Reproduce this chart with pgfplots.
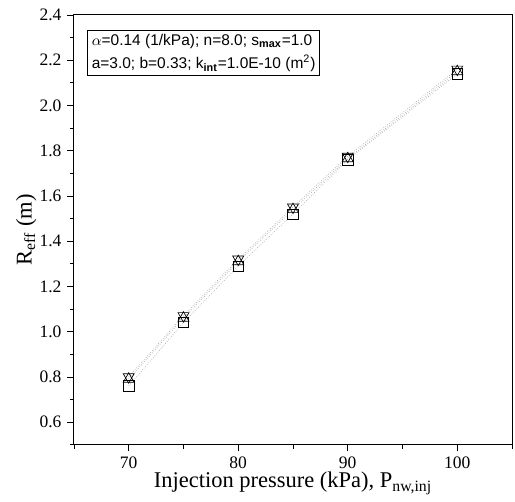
\documentclass[border=0pt]{standalone}
\usepackage{pgfplots}
\pgfplotsset{compat=1.18}
\usepackage{fontspec}
\setmainfont{Liberation Serif}
\newfontfamily\arial{Liberation Sans}
\begin{document}
\begin{tikzpicture}
  \begin{axis}[
    scale only axis,
    width=263pt, height=258pt,
    xmin=65, xmax=105, ymin=0.5, ymax=2.4,
    xtick={70,80,90,100}, minor xtick={65,75,85,95,105},
    ytick={0.6,0.8,...,2.41}, minor ytick={0.5,0.7,...,2.31},
    tick align=outside,
    xtick pos=bottom, ytick pos=left,
    major tick length=4pt, minor tick length=2.5pt,
    tick style={black, thin},
    axis line style={black, semithick},
    /pgf/number format/assume math mode=true,
    /pgf/number format/.cd, fixed, fixed zerofill, precision=1, /pgfplots/.cd,
    xticklabel style={/pgf/number format/precision=0, /pgf/number format/fixed zerofill=false},
    tick label style={font=\fontsize{10.5}{12}\selectfont},
    xlabel={Injection pressure (kPa), P\textsubscript{nw,inj}},
    ylabel={R\textsubscript{eff} (m)},
    label style={font=\fontsize{13.5}{15}\selectfont},
    xlabel style={yshift=5pt},
    ylabel style={yshift=-5pt},
  ]
    \addplot[gray!70, densely dotted, thin, mark=square, mark size=3.1pt,
      mark options={black, solid, thin, fill=white}] coordinates {
      (70,0.76) (75,1.04) (80,1.29) (85,1.52) (90,1.76) (100,2.14)};
    \addplot[gray!70, densely dotted, thin, mark=triangle, mark size=3.8pt,
      mark options={black, solid, thin, fill=none}] coordinates {
      (70,0.79) (75,1.06) (80,1.31) (85,1.54) (90,1.765) (100,2.15)};
    \addplot[gray!70, densely dotted, thin, mark=triangle, mark size=3.8pt,
      mark options={black, solid, thin, fill=none, rotate=180}] coordinates {
      (70,0.80) (75,1.07) (80,1.32) (85,1.55) (90,1.775) (100,2.16)};
    \node[draw, semithick, anchor=north west, align=left, inner sep=2.5pt,
      font=\arial\fontsize{9.3}{13.5}\selectfont]
      at (rel axis cs:0.03,0.965)
      {$\alpha$=0.14 (1/kPa); n=8.0; s\textsubscript{\textbf{max}}=1.0\\
       a=3.0; b=0.33; k\textsubscript{\textbf{int}}=1.0E-10 (m\textsuperscript{2})};
  \end{axis}
  \pgfresetboundingbox
  \path ([xshift=-44.4pt, yshift=-34.2pt]current axis.south west)
    rectangle ([xshift=1.8pt, yshift=9pt]current axis.north east);
\end{tikzpicture}
\end{document}
